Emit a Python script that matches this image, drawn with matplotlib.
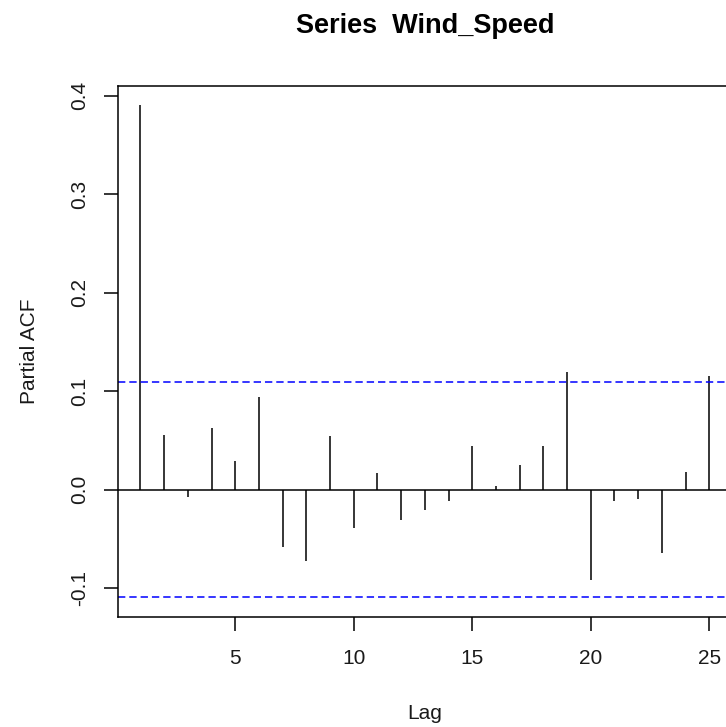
import numpy as np
import matplotlib
matplotlib.use("Agg")
import matplotlib.pyplot as plt

lags = list(range(1, 26))
pacf_vals = [0.390, 0.055, -0.007, 0.063, 0.029, 0.094, -0.058, -0.072, 0.054, -0.039,
             0.017, -0.031, -0.021, -0.012, 0.044, 0.004, 0.025, 0.044, 0.119, -0.092,
             -0.012, -0.010, -0.064, 0.018, 0.115]
conf_limit = 0.109
x_ticks = [5, 10, 15, 20, 25]
y_ticks = [-0.1, 0.0, 0.1, 0.2, 0.3, 0.4]

plt.rcParams['font.family'] = ['Liberation Sans', 'DejaVu Sans']
plt.rcParams['axes.unicode_minus'] = False

W, H = 726, 727
fig = plt.figure(figsize=(W / 100, H / 100), dpi=100)

# axes box in pixels: left 117.7, right 732 (cropped), top 85.7, bottom 616.7
left, right, top, bottom = 117.7, 732.0, 85.7, 616.7
ax = fig.add_axes([left / W, (H - bottom) / H, (right - left) / W, (bottom - top) / H])

ax.vlines(lags, 0, pacf_vals, color='black', linewidth=1.1)
ax.axhline(0, color='black', linewidth=1.1)
for c in (conf_limit, -conf_limit):
    ax.axhline(c, color='#0000FF', linewidth=1.1, dashes=(4.8, 2.6))

ymin, ymax = -conf_limit, max(pacf_vals)
pad = 0.04 * (ymax - ymin)
ax.set_ylim(ymin - pad, ymax + pad)
ax.set_xlim(1 - 0.04 * 24, 25 + 0.04 * 24)

ax.set_xticks(x_ticks)
ax.set_yticks(y_ticks)
ax.set_yticklabels([f'{v:.1f}' for v in y_ticks], rotation=90, va='center')
ax.tick_params(axis='both', length=9.8, width=1.1, labelsize=15, direction='out',
               colors='black', labelcolor='#1a1a1a')
ax.tick_params(axis='x', pad=13.5)
ax.tick_params(axis='y', pad=10.5)

for s in ax.spines.values():
    s.set_linewidth(1.1)
    s.set_color('black')

ax.set_xlabel('Lag', fontsize=15, labelpad=26, color='#1a1a1a')
ax.set_ylabel('Partial ACF', fontsize=15, labelpad=23, color='#1a1a1a')
ax.set_title('Series  Wind_Speed', fontsize=19.5, fontweight='bold', pad=38)

fig.savefig('out.png', dpi=100)
